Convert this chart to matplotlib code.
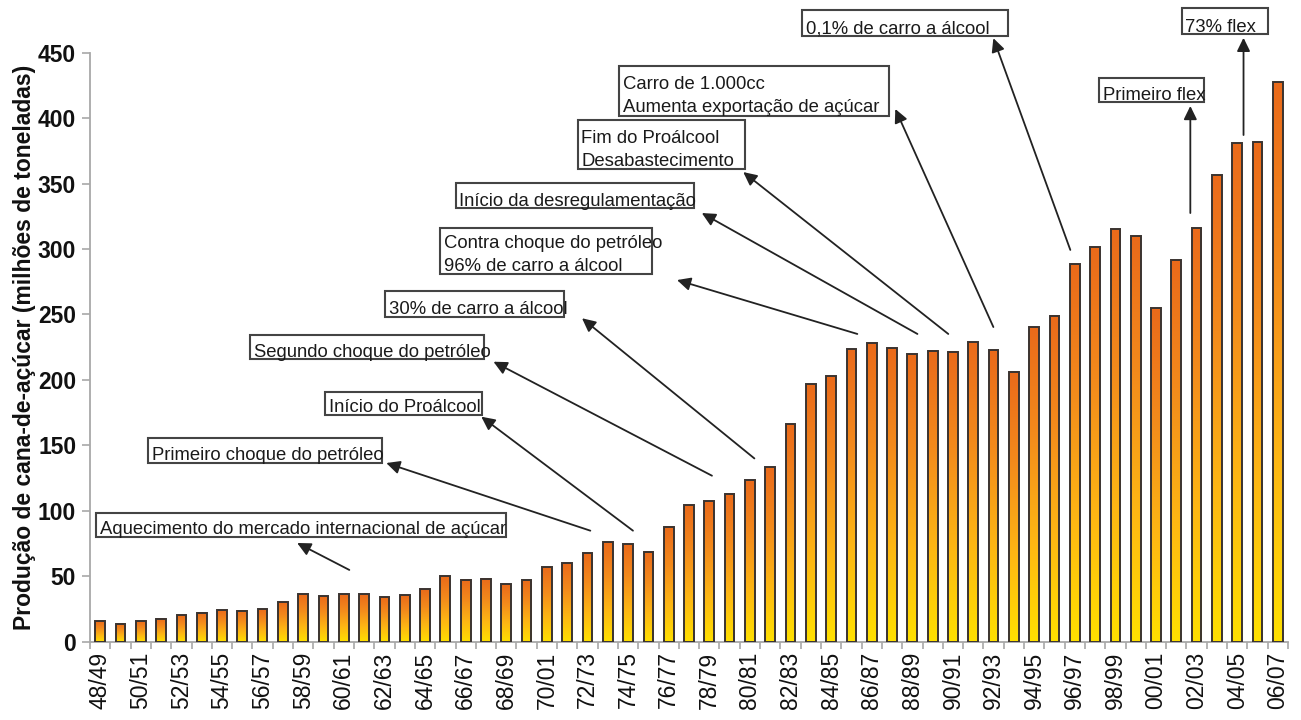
import matplotlib
matplotlib.use("Agg")
import matplotlib.pyplot as plt
import numpy as np
from matplotlib.colors import LinearSegmentedColormap
from matplotlib.patches import Rectangle

plt.rcParams['font.family'] = ['Liberation Sans', 'DejaVu Sans']

# Safras (harvest seasons)
seasons = ["48/49", "49/50", "50/51", "51/52", "52/53", "53/54", "54/55", "55/56",
           "56/57", "57/58", "58/59", "59/60", "60/61", "61/62", "62/63", "63/64",
           "64/65", "65/66", "66/67", "67/68", "68/69", "69/70", "70/01", "71/72",
           "72/73", "73/74", "74/75", "75/76", "76/77", "77/78", "78/79", "79/80",
           "80/81", "81/82", "82/83", "83/84", "84/85", "85/86", "86/87", "87/88",
           "88/89", "89/90", "90/91", "91/92", "92/93", "93/94", "94/95", "95/96",
           "96/97", "97/98", "98/99", "99/00", "00/01", "01/02", "02/03", "03/04",
           "04/05", "05/06", "06/07"]

# Produção de cana-de-açúcar, milhões de toneladas
production = [16.0, 13.8, 16.0, 17.6, 20.6, 22.2, 24.0, 23.7,
              25.0, 30.3, 36.4, 34.9, 36.4, 36.4, 33.9, 35.7,
              40.3, 50.0, 47.4, 48.2, 43.8, 47.1, 57.3, 60.3,
              67.8, 76.2, 74.6, 68.8, 87.9, 104.4, 107.7, 113.1,
              123.5, 133.2, 166.1, 196.6, 202.8, 223.4, 228.0, 224.5,
              219.6, 222.4, 221.7, 228.7, 222.8, 206.3, 240.3, 249.1,
              288.8, 301.8, 315.5, 309.6, 254.7, 291.6, 315.9, 356.6,
              380.9, 381.6, 427.3]

# Event labels: text, box (x0, x1, y0, y1), arrow tail (near bars), arrow head
event_texts = [
    ["Aquecimento do mercado internacional de açúcar"],
    ["Primeiro choque do petróleo"],
    ["Início do Proálcool"],
    ["Segundo choque do petróleo"],
    ["30% de carro a álcool"],
    ["Contra choque do petróleo", "96% de carro a álcool"],
    ["Início da desregulamentação"],
    ["Fim do Proálcool", "Desabastecimento"],
    ["Carro de 1.000cc", "Aumenta exportação de açúcar"],
    ["0,1% de carro a álcool"],
    ["Primeiro flex"],
    ["73% flex"],
]
event_boxes = [
    (-0.20, 20.00, 80.0, 98.3),
    (2.36, 13.89, 136.7, 155.8),
    (11.08, 18.82, 173.2, 191.0),
    (7.39, 18.89, 215.7, 234.3),
    (14.03, 22.83, 248.3, 267.9),
    (16.75, 27.18, 280.7, 315.8),
    (17.50, 29.26, 331.1, 350.2),
    (23.51, 31.77, 360.9, 398.6),
    (25.57, 38.87, 401.9, 440.1),
    (34.58, 44.73, 462.6, 482.6),
    (49.20, 54.38, 412.1, 430.9),
    (53.27, 57.54, 464.0, 484.1),
]
event_tails = [(12.27, 54.8), (24.14, 84.8), (26.24, 84.8), (30.13, 126.8),
               (32.22, 140.0), (37.29, 235.1), (40.25, 235.1), (41.77, 235.1),
               (43.99, 240.4), (47.78, 299.3), (53.69, 327.5), (56.31, 387.1)]
event_heads = [(9.70, 75.4), (14.09, 136.5), (18.77, 171.9), (19.37, 213.9),
               (23.73, 247.1), (28.41, 276.3), (29.63, 327.5), (31.67, 358.8),
               (39.16, 407.0), (43.99, 461.1), (53.69, 409.3), (56.31, 461.4)]

fig = plt.figure(figsize=(13.01, 7.2), dpi=100)
ax = fig.add_axes([0.0692, 0.1088, 0.9208, 0.818])

x = np.arange(len(seasons))
bar_w = 0.48
cmap = LinearSegmentedColormap.from_list(
    "cane", ["#ffe000", "#fdb514", "#f38a1c", "#ea6a1a"])
grad = np.linspace(0, 1, 256).reshape(-1, 1)

for xi, h in zip(x, production):
    ax.imshow(grad, extent=[xi - bar_w / 2, xi + bar_w / 2, 0, h],
              origin='lower', aspect='auto', cmap=cmap, zorder=2)
ax.bar(x, production, width=bar_w, fill=False, edgecolor='#3a3330',
       linewidth=1.4, zorder=3)

ax.set_xlim(-0.5, len(seasons) - 0.5)
ax.set_ylim(0, 450)

for side in ['top', 'right']:
    ax.spines[side].set_visible(False)
for side in ['left', 'bottom']:
    ax.spines[side].set_color('#a8a8a8')
    ax.spines[side].set_linewidth(1.3)

ax.set_yticks(np.arange(0, 451, 50))
ax.tick_params(axis='y', direction='out', length=6, width=1.2, color='#a8a8a8',
               labelsize=16.5, pad=4, labelcolor='#111111')
for lab in ax.get_yticklabels():
    lab.set_fontweight('bold')

ax.set_xticks(x[::2])
ax.set_xticklabels(seasons[::2], rotation=90, fontsize=16.5, color='#111111')
ax.set_xticks(np.arange(-0.5, len(seasons), 1), minor=True)
ax.tick_params(axis='x', which='major', length=0, pad=7)
ax.tick_params(axis='x', which='minor', direction='out', length=5, width=1.2,
               color='#a8a8a8')

ax.set_ylabel("Produção de cana-de-açúcar (milhões de toneladas)",
              fontsize=16.5, fontweight='bold', labelpad=1, color='#111111')

ax.patch.set_visible(False)

# Event boxes with arrows
for lines, (bx0, bx1, by0, by1), tail, head in zip(event_texts, event_boxes,
                                                   event_tails, event_heads):
    ax.add_patch(Rectangle((bx0, by0), bx1 - bx0, by1 - by0, fill=False,
                           edgecolor='#444444', linewidth=1.5, clip_on=False,
                           zorder=5))
    if len(lines) == 1:
        offsets = [2.0]
    else:
        offsets = [19.0, 2.5]
    for line, off in zip(lines, offsets):
        ax.annotate(line, xy=(bx0, by0), xytext=(2.5, off),
                    textcoords='offset points', fontsize=13.3, va='baseline',
                    ha='left', color='#1a1a1a', annotation_clip=False, zorder=6)
    ax.annotate("", xy=head, xytext=tail, annotation_clip=False,
                arrowprops=dict(arrowstyle='-|>,head_length=0.45,head_width=0.22',
                                mutation_scale=18, color='#222222', lw=1.3,
                                shrinkA=0, shrinkB=0), zorder=4)

fig.savefig("out.png", dpi=100, facecolor='white')
